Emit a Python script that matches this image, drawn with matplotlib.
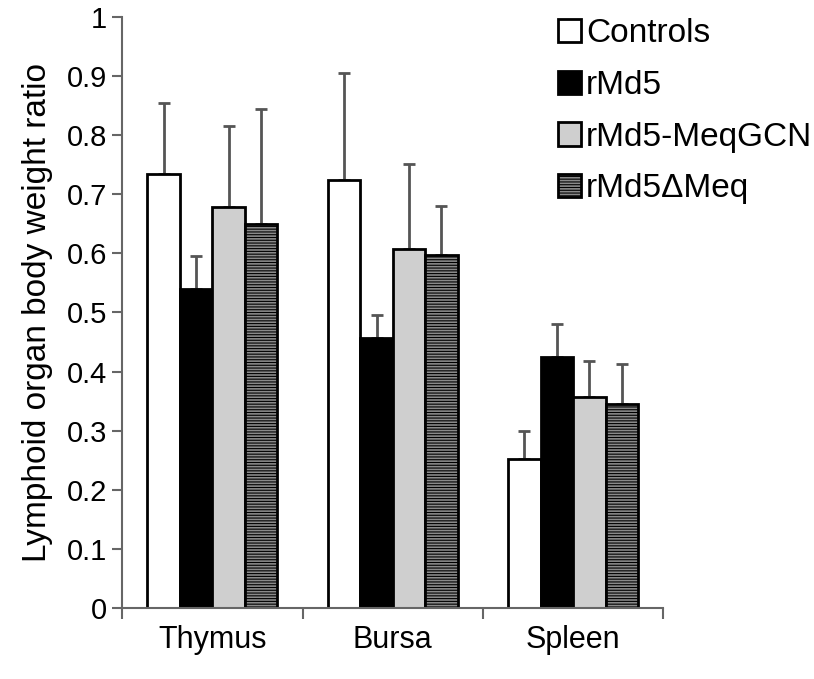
import numpy as np
import matplotlib.pyplot as plt

plt.rcParams['font.family'] = ['Liberation Sans', 'DejaVu Sans']

organs = ["Thymus", "Bursa", "Spleen"]
groups = ["Controls", "rMd5", "rMd5-MeqGCN", "rMd5\u0394Meq"]

controls = [0.735, 0.725, 0.252]
rmd5 = [0.540, 0.457, 0.425]
meqgcn = [0.678, 0.608, 0.357]
dmeq = [0.650, 0.597, 0.345]

controls_err = [0.120, 0.180, 0.048]
rmd5_err = [0.055, 0.038, 0.055]
meqgcn_err = [0.137, 0.144, 0.061]
dmeq_err = [0.195, 0.083, 0.068]

values = [controls, rmd5, meqgcn, dmeq]
errors = [controls_err, rmd5_err, meqgcn_err, dmeq_err]
faces = ["white", "black", "#cfcfcf", "#8a8a8a"]
hatches = [None, None, None, "------"]

fig = plt.figure(figsize=(8.14, 6.79), dpi=100)
ax = fig.add_axes([0.150, 0.1046, 0.665, 0.8704])

x = np.arange(len(organs))
w = 0.18
plt.rcParams['hatch.color'] = '#5a5a5a'
plt.rcParams['hatch.linewidth'] = 0.8
for i in range(4):
    pos = x + (i - 1.5) * w
    ax.bar(pos, values[i], w, color=faces[i], edgecolor="black",
           linewidth=2, hatch=hatches[i], label=groups[i], zorder=2)
    ax.errorbar(pos, values[i], yerr=[np.zeros(3), errors[i]], fmt="none",
                ecolor="#555555", elinewidth=2, capsize=4, capthick=2, zorder=1)

ax.set_xlim(-0.5, 2.5)
ax.set_ylim(0, 1)
ax.set_yticks(np.arange(0, 1.01, 0.1))
ax.set_yticklabels(["0"] + ["%.1f" % v for v in np.arange(0.1, 0.95, 0.1)] + ["1"])
ax.set_xticks(x)
ax.set_xticklabels(organs, fontsize=22)
ax.set_xticks([-0.5, 0.5, 1.5, 2.5], minor=True)
ax.tick_params(axis="x", which="major", length=0, pad=12)
ax.tick_params(axis="x", which="minor", length=8, width=1.5, color="#666666")
ax.tick_params(axis="y", length=7, width=1.5, color="#666666", labelsize=21, pad=4)

for s in ["top", "right"]:
    ax.spines[s].set_visible(False)
for s in ["left", "bottom"]:
    ax.spines[s].set_color("#666666")
    ax.spines[s].set_linewidth(1.5)

ax.set_ylabel("Lymphoid organ body weight ratio", fontsize=24, labelpad=10)

ax.legend(loc="upper left", bbox_to_anchor=(0.78, 1.02), frameon=False,
          fontsize=24, handlelength=0.7, handleheight=0.7, handletextpad=0.15,
          labelspacing=0.62, borderaxespad=0)

fig.savefig("out.png", dpi=100)
